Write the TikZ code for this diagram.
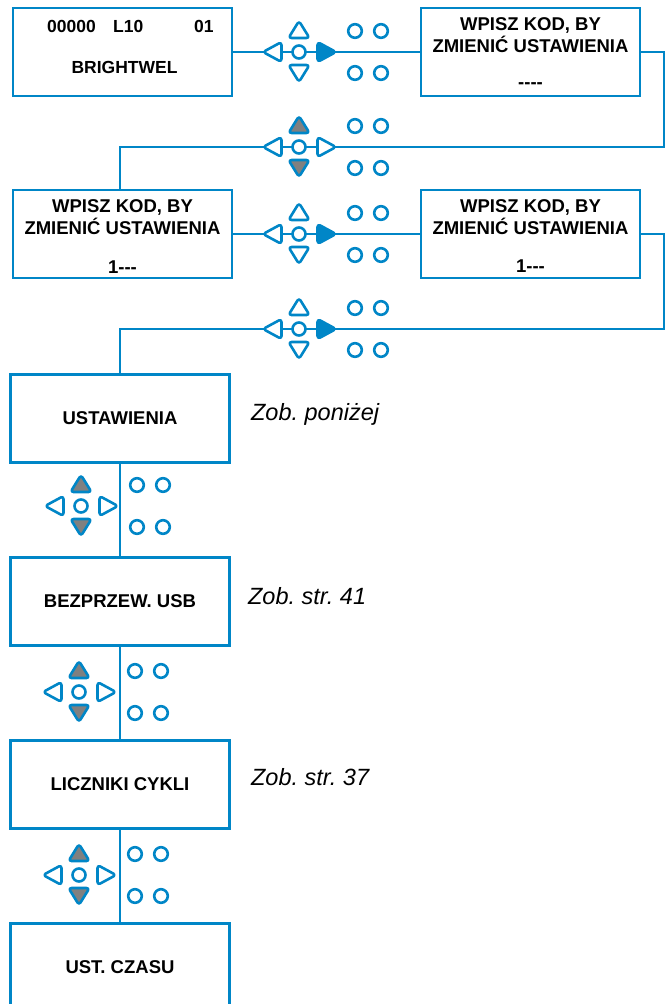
\documentclass[tikz,border=0pt]{standalone}
\usepackage{fontspec}
\setmainfont{Liberation Sans}
\usepackage{tikz}

\definecolor{kblue}{RGB}{0,134,199}
\definecolor{kgrey}{RGB}{128,128,128}

\tikzset{
  box/.style={draw=kblue, line width=2.8pt, minimum width=219pt, minimum height=88pt, inner sep=0pt, align=center, font=\bfseries\fontsize{18.5}{22}\selectfont},
  lbl/.style={inner sep=0pt, align=center, font=\bfseries\fontsize{18.5}{22}\selectfont},
  note/.style={inner sep=0pt, anchor=base west, font=\itshape\fontsize{23.5}{28}\selectfont},
  link/.style={draw=kblue, line width=2.8pt},
  key/.style={draw=kblue, line width=2.6pt, fill=white, rounded corners=3pt, line join=round},
  keyon/.style={fill=kblue},
  keygrey/.style={fill=kgrey}
}

\newcommand{\dsh}{\mbox{-}}
\newcommand{\navpad}[3]{%
  \begin{scope}[shift={(#1)}]
    \draw[key,#2] (-10.5,-14) -- (10.5,-14) -- (0,-31) -- cycle;
    \draw[key,#2] (-10.5,13) -- (10.5,13) -- (0,30) -- cycle;
    \draw[key] (-17.5,-10) -- (-17.5,10) -- (-36,0) -- cycle;
    \draw[key,#3] (18.5,-10) -- (18.5,10) -- (37,0) -- cycle;
    \draw[key] (0,0) circle[radius=6.5];
    \foreach \cx in {56,82}
      \foreach \cy in {-21,21}
        \draw[key] (\cx,\cy) circle[radius=6.8];
  \end{scope}}

\frenchspacing

\begin{document}
\begin{tikzpicture}[x=1pt,y=-1pt,node distance=183pt]
    \useasboundingbox (0,0) rectangle (666,1004);

    \node[box] (b1) at (122.5,52) {};
    \node[box] (b2) [node distance=408pt, right of=b1] {};
    \node[box] (b3) [node distance=182pt, below of=b1] {};
    \node[box] (b4) [node distance=408pt, right of=b3] {};

    \node[box] (b5) [node distance=184.5pt, below of=b3, xshift=-2.5pt] {USTAWIENIA};
    \node[box] (b6) [below of=b5] {BEZPRZEW. USB};
    \node[box] (b7) [below of=b6] {LICZNIKI CYKLI};
    \node[box] (b8) [below of=b7] {UST. CZASU};

    \node[lbl, anchor=base west, font=\bfseries\fontsize{17.5}{22}\selectfont] (b1num) at ([shift={(-75.5,-20)}]b1.center) {00000};
    \node[lbl, anchor=base west, font=\bfseries\fontsize{17.5}{22}\selectfont] (b1lvl) at ([shift={(-9.5,-20)}]b1.center) {L10};
    \node[lbl, anchor=base west, font=\bfseries\fontsize{17.5}{22}\selectfont] (b1id) at ([shift={(71.5,-20)}]b1.center) {01};
    \node[lbl, anchor=base, font=\bfseries\fontsize{17.5}{22}\selectfont] (b1name) at ([shift={(2,21)}]b1.center) {BRIGHTWEL};

    \node[lbl] (b2msg) at ([shift={(0,-17)}]b2.center) {WPISZ KOD, BY\\ZMIENIĆ USTAWIENIA};
    \node[lbl, anchor=base] (b2code) at ([shift={(0,36)}]b2.center) {\dsh\dsh\dsh\dsh};
    \node[lbl] (b3msg) at ([shift={(0,-17)}]b3.center) {WPISZ KOD, BY\\ZMIENIĆ USTAWIENIA};
    \node[lbl, anchor=base] (b3code) at ([shift={(0,39)}]b3.center) {1\dsh\dsh\dsh};
    \node[lbl] (b4msg) at ([shift={(0,-17)}]b4.center) {WPISZ KOD, BY\\ZMIENIĆ USTAWIENIA};
    \node[lbl, anchor=base] (b4code) at ([shift={(0,38)}]b4.center) {1\dsh\dsh\dsh};

    \node[note] (n5) at ([shift={(20,2)}]b5.east) {Zob. poniżej};
    \node[note] (n6) at ([shift={(17,3)}]b6.east) {Zob. str. 41};
    \node[note] (n7) at ([shift={(20,1)}]b7.east) {Zob. str. 37};

    \coordinate (r1) at (664,147);
    \coordinate (r2) at (664,329);

    \draw[link] (b1) -- (b2);
    \draw[link] (b2.east) -| (r1) -| (b3.north -| b5);
    \draw[link] (b3) -- (b4);
    \draw[link] (b4.east) -| (r2) -| (b5.north);
    \draw[link] (b5) -- (b6);
    \draw[link] (b6) -- (b7);
    \draw[link] (b7) -- (b8);

    \coordinate (k1) at (299,52);
    \coordinate (k2) at (299,147);
    \coordinate (k3) at (299,234);
    \coordinate (k4) at (299,329);
    \coordinate (k5) at (81,506);
    \coordinate (k6) at (79,692);
    \coordinate (k7) at (79,875);

    \navpad{k1}{}{keyon}
    \navpad{k2}{keygrey}{}
    \navpad{k3}{}{keyon}
    \navpad{k4}{}{keyon}
    \navpad{k5}{keygrey}{}
    \navpad{k6}{keygrey}{}
    \navpad{k7}{keygrey}{}
\end{tikzpicture}
\end{document}
